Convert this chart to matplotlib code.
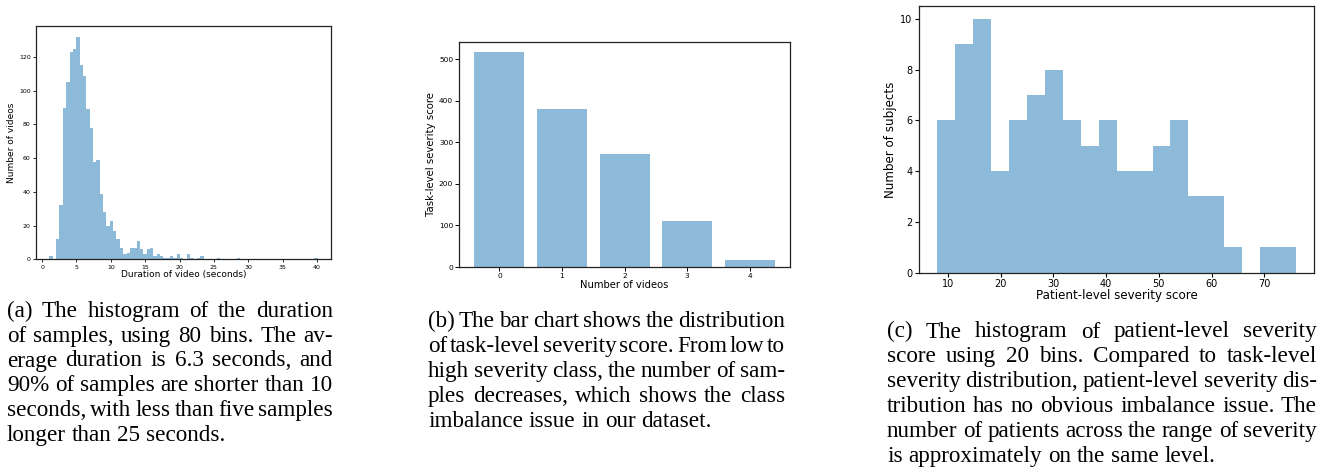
import matplotlib
matplotlib.use('Agg')
import matplotlib.pyplot as plt
import numpy as np

W, H, DPI = 1328, 470, 100

# ---------------- data ----------------
# (a) duration histogram, 80 bins
duration_min, duration_max = 1.06, 40.1
duration_counts = [2, 0, 12, 32, 90, 105, 123, 125, 132, 115,
                   109, 89, 78, 58, 59, 39, 28, 20, 23, 17,
                   12, 7, 3, 4, 7, 7, 11, 6, 3, 6,
                   7, 2, 3, 2, 1, 1, 2, 1, 3, 1,
                   0, 3, 1, 0, 1, 2, 0, 0, 0, 0,
                   1, 0, 0, 0, 0, 0, 1, 0, 0, 0,
                   0, 0, 0, 0, 0, 0, 0, 0, 0, 0,
                   0, 0, 0, 0, 0, 0, 0, 0, 0, 1]
duration_xticks = [0, 5, 10, 15, 20, 25, 30, 35, 40]
duration_yticks = [0, 20, 40, 60, 80, 100, 120]

# (b) task-level severity bar chart
severity_classes = [0, 1, 2, 3, 4]
severity_counts = [516, 379, 271, 110, 18]
severity_yticks = [0, 100, 200, 300, 400, 500]

# (c) patient-level severity histogram, 20 bins
patient_min, patient_max = 8.0, 76.0
patient_counts = [6, 9, 10, 4, 6, 7, 8, 6, 5, 6, 4, 4, 5, 6, 3, 3, 1, 0, 1, 1]
patient_xticks = [10, 20, 30, 40, 50, 60, 70]
patient_yticks = [0, 2, 4, 6, 8, 10]

caption_a = ["(a) The histogram of the duration",
             "of samples, using 80 bins. The av-",
             "erage duration is 6.3 seconds, and",
             "90% of samples are shorter than 10",
             "seconds, with less than five samples",
             "longer than 25 seconds."]
caption_b = ["(b) The bar chart shows the distribution",
             "of task-level severity score. From low to",
             "high severity class, the number of sam-",
             "ples decreases, which shows the class",
             "imbalance issue in our dataset."]
caption_c = ["(c) The histogram of patient-level severity",
             "score using 20 bins. Compared to task-level",
             "severity distribution, patient-level severity dis-",
             "tribution has no obvious imbalance issue. The",
             "number of patients across the range of severity",
             "is approximately on the same level."]

# ---------------- figure ----------------
plt.rcParams['font.family'] = ['DejaVu Sans']
fig = plt.figure(figsize=(W / DPI, H / DPI), dpi=DPI)
BAR = '#1f77b4'


def px_axes(l, t, r, b):
    return fig.add_axes([l / W, 1 - b / H, (r - l) / W, (b - t) / H])


def style(ax, tick_fs, tlen, lw, pad):
    ax.tick_params(labelsize=tick_fs, length=tlen, width=lw, pad=pad)
    for s in ax.spines.values():
        s.set_linewidth(0.9)
        s.set_color('#222222')


# (a)
ax1 = px_axes(36, 25.7, 331, 259.3)
edges = np.linspace(duration_min, duration_max, len(duration_counts) + 1)
centers = (edges[:-1] + edges[1:]) / 2
ax1.hist(centers, bins=edges, weights=duration_counts, color=BAR, alpha=0.5)
ax1.set_xticks(duration_xticks)
ax1.set_yticks(duration_yticks)
ax1.set_xlabel('Duration of video (seconds)', fontsize=6.5, labelpad=0.5)
ax1.set_ylabel('Number of videos', fontsize=6.5, labelpad=2)
style(ax1, 4.5, 2.2, 0.6, 1.6)

# (b)
ax2 = px_axes(459.3, 41.7, 790, 267)
ax2.bar(severity_classes, severity_counts, color=BAR, alpha=0.5)
ax2.set_xticks(severity_classes)
ax2.set_yticks(severity_yticks)
ax2.set_xlabel('Number of videos', fontsize=7.2, labelpad=0.5)
ax2.set_ylabel('Task-level severity score', fontsize=7.3, labelpad=2)
style(ax2, 5.4, 2.6, 0.7, 1.8)

# (c)
ax3 = px_axes(919.3, 6, 1314, 272.7)
pedges = np.linspace(patient_min, patient_max, len(patient_counts) + 1)
pcenters = (pedges[:-1] + pedges[1:]) / 2
ax3.hist(pcenters, bins=pedges, weights=patient_counts, color=BAR, alpha=0.5)
ax3.set_xticks(patient_xticks)
ax3.set_yticks(patient_yticks)
ax3.set_xlabel('Patient-level severity score', fontsize=8.6, labelpad=0)
ax3.set_ylabel('Number of subjects', fontsize=8.6, labelpad=2.5)
style(ax3, 7.0, 3.0, 0.8, 1.8)

# ---------------- captions (justified) ----------------
renderer = fig.canvas.get_renderer()
CAP_FS = 16.7


def justified(lines, x0, x1, y0, dy):
    space = CAP_FS * DPI / 72 * 0.25
    for k, line in enumerate(lines):
        y = y0 + k * dy
        words = line.split(' ')
        texts = [fig.text(0, 0, w, fontsize=CAP_FS, family=['Liberation Serif', 'DejaVu Serif'],
                          ha='left', va='baseline') for w in words]
        widths = [t.get_window_extent(renderer).width for t in texts]
        if k == len(lines) - 1 or len(words) == 1:
            gap = space
        else:
            gap = (x1 - x0 - sum(widths)) / (len(words) - 1)
        x = x0
        for t, wdt in zip(texts, widths):
            t.set_position((x / W, 1 - y / H))
            x += wdt + gap


justified(caption_a, 7, 333, 316.7, 24.9)
justified(caption_b, 428, 785, 327.0, 24.9)
justified(caption_c, 887, 1317, 337.5, 24.9)

fig.savefig('out.png', dpi=DPI)
